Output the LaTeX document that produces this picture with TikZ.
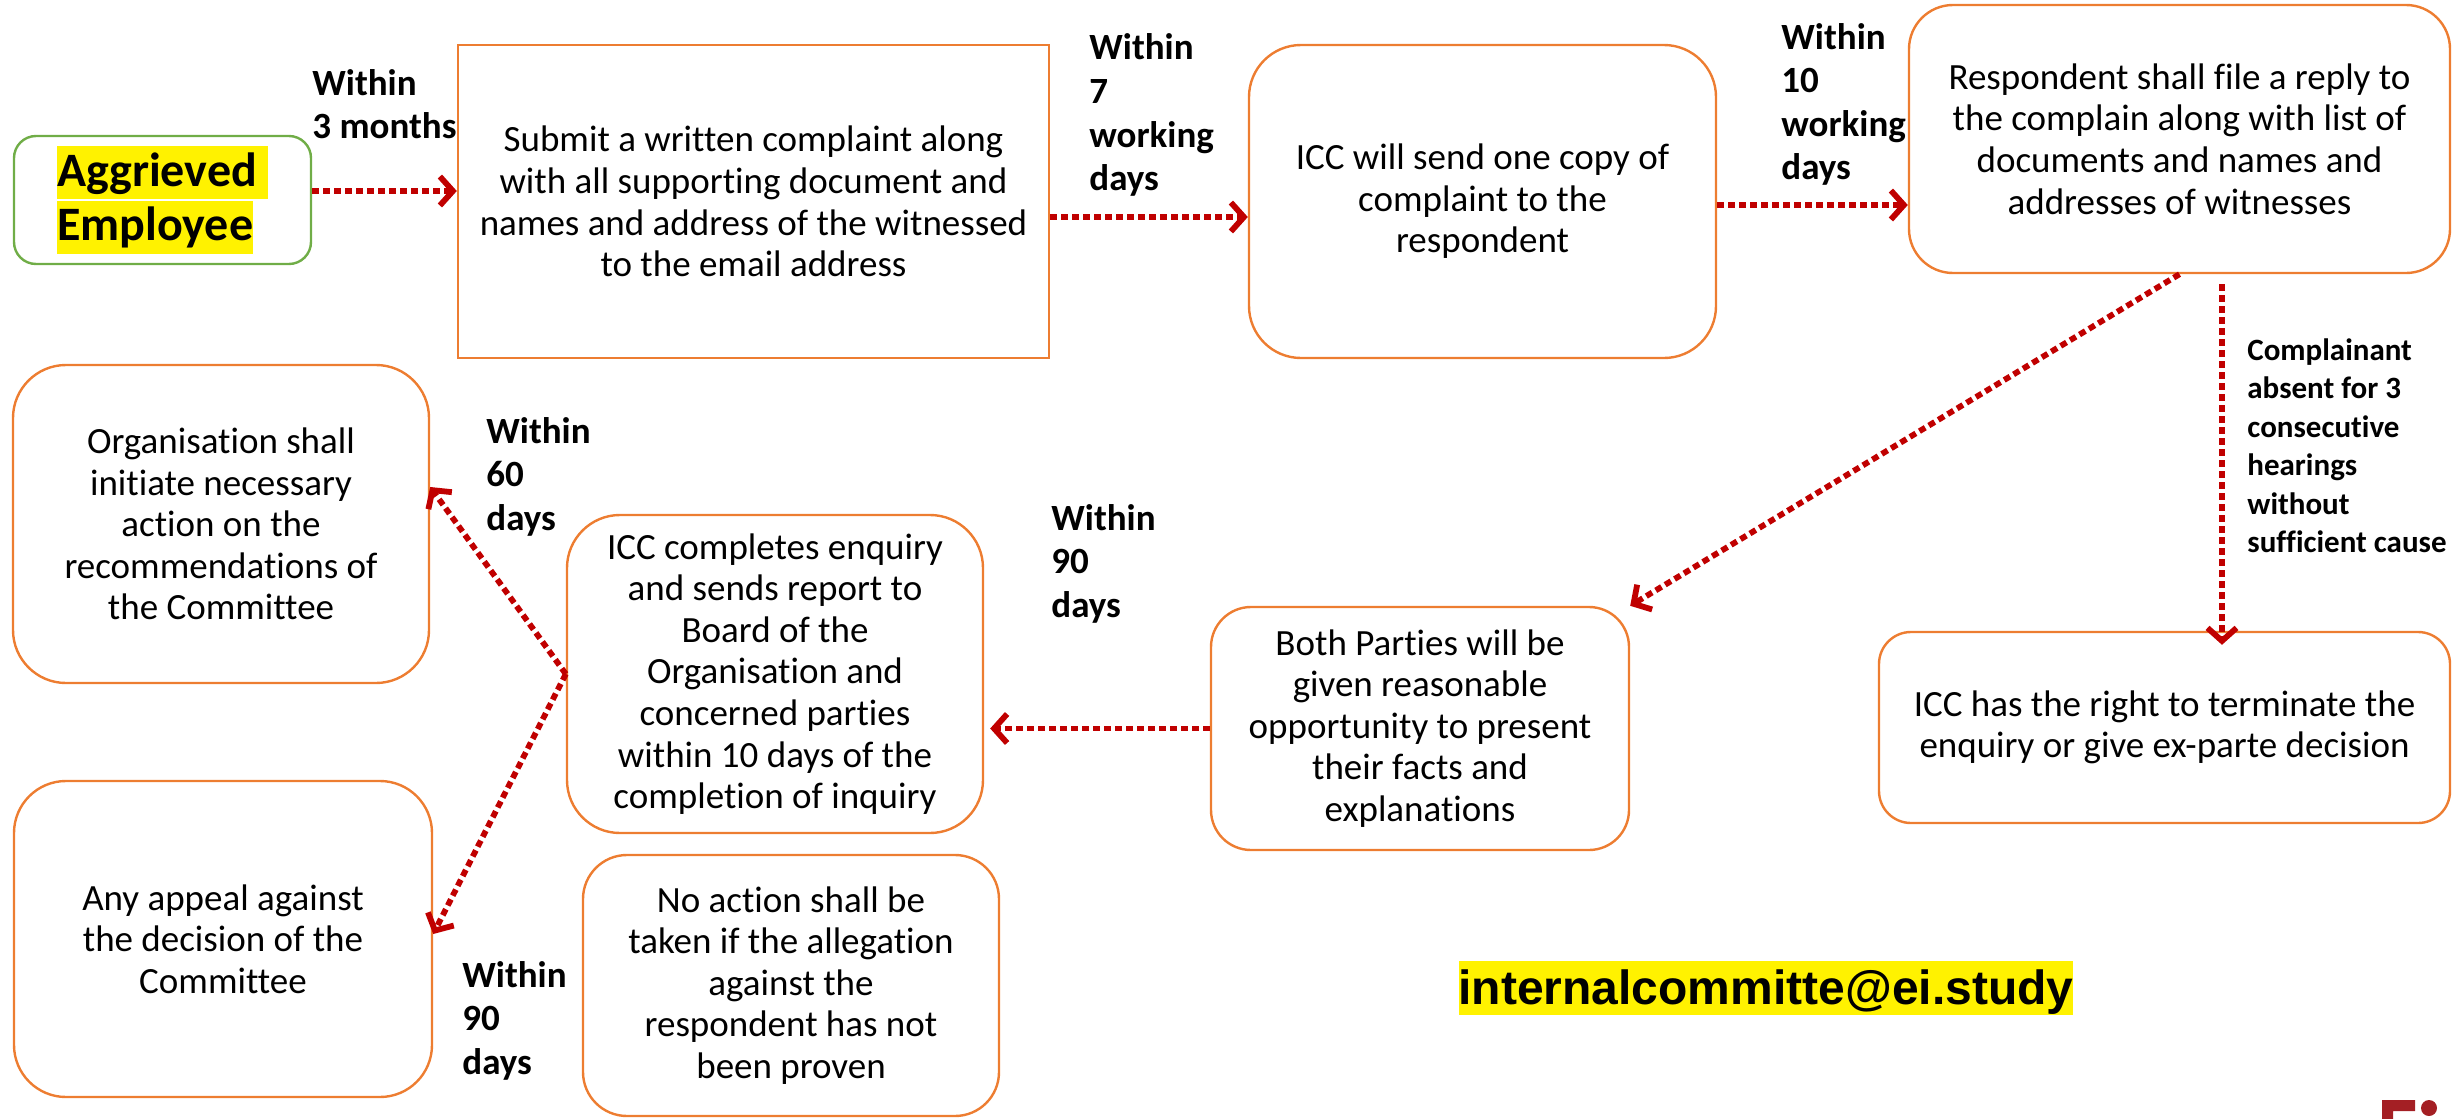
\documentclass[tikz,border=0pt]{standalone}
\usepackage{fontspec}
\setmainfont{Carlito}[Ligatures={CommonOff,ContextualOff}]
\newfontfamily\mailfont{Liberation Sans}
\usetikzlibrary{arrows.meta}

\definecolor{boxorange}{HTML}{ED7D31}
\definecolor{boxgreen}{HTML}{70AD47}
\definecolor{flowred}{HTML}{C00000}
\definecolor{logored}{HTML}{A41F24}

% yellow highlight behind a line of text
\newcommand\hlline[1]{{\setlength{\fboxsep}{0pt}\colorbox{yellow}{\rule[-0.27em]{0pt}{1.1em}#1}}}
\newcommand\hlmail[1]{{\setlength{\fboxsep}{0pt}\colorbox{yellow}{\rule[-0.23em]{0pt}{1.14em}#1}}}
% left-aligned stack whose baseline is the first line
\newcommand\lstack[1]{\begin{tabular}[t]{@{}l@{}}#1\end{tabular}}

\tikzset{
  box/.style={draw=boxorange, line width=1.2pt, align=center, inner sep=0pt,
    font=\fontsize{18.5}{20.8}\selectfont},
  flow/.style={draw=flowred, line width=2.9pt, dash pattern=on 3.4pt off 2.1pt,
    -{Straight Barb[length=6.5pt,width=14.5pt]}},
  lbl/.style={anchor=base west, inner sep=0pt, font=\fontsize{18.5}{21.8}\selectfont\bfseries},
}

\begin{document}
\begin{tikzpicture}[x=0.5pt,y=-0.5pt]
\useasboundingbox (0,0) rectangle (2459,1119);

% ---- boxes ----
\node[draw=boxgreen, line width=1.2pt, rounded corners=11pt, inner sep=0pt,
      minimum width=148.5pt, minimum height=64pt, align=left,
      font=\fontsize{24}{26.4}\selectfont\bfseries] (agg) at (162.5,200)
  {\hlline{Aggrieved\ }\\\hlline{Employee}};

\node[box, minimum width=295.5pt, minimum height=156.5pt] (submit) at (753.5,201.5)
  {Submit a written complaint along\\with all supporting document and\\names and address of the witnessed\\to the email address};

\node[box, rounded corners=26pt, minimum width=233.5pt, minimum height=156.5pt] (send) at (1482.5,201.5)
  {ICC will send one copy of\\complaint to the\\respondent};

\node[box, rounded corners=22pt, minimum width=270.5pt, minimum height=134pt] (resp) at (2179.5,139)
  {Respondent shall file a reply to\\the complain along with list of\\documents and names and\\addresses of witnesses};

\node[box, rounded corners=26.5pt, minimum width=208pt, minimum height=159pt] (org) at (221,524)
  {Organisation shall\\initiate necessary\\action on the\\recommendations of\\the Committee};

\node[box, rounded corners=26.5pt, minimum width=208pt, minimum height=159pt] (comp) at (775,674)
  {ICC completes enquiry\\and sends report to\\Board of the\\Organisation and\\concerned parties\\within 10 days of the\\completion of inquiry};

\node[box, rounded corners=20pt, minimum width=209pt, minimum height=121.5pt] (both) at (1420,728.5)
  {Both Parties will be\\given reasonable\\opportunity to present\\their facts and\\explanations};

\node[box, rounded corners=16pt, minimum width=285.5pt, minimum height=95.5pt] (right) at (2164.5,727.5)
  {ICC has the right to terminate the\\enquiry or give ex-parte decision};

\node[box, rounded corners=26pt, minimum width=209pt, minimum height=158pt] (appeal) at (223,939)
  {Any appeal against\\the decision of the\\Committee};

\node[box, rounded corners=22pt, minimum width=208pt, minimum height=130.5pt] (noact) at (791,985.5)
  {No action shall be\\taken if the allegation\\against the\\respondent has not\\been proven};

% ---- time limits ----
\node[lbl] (t3m) at (312,95) {\lstack{Within\\3 months}};
\node[lbl] (t7d) at (1089,60) {\lstack{Within\\7\\working\\days}};
\node[lbl] (t10d) at (1781,49) {\lstack{Within\\10\\working\\days}};
\node[lbl] (t60d) at (486,443) {\lstack{Within\\60\\days}};
\node[lbl] (t90a) at (1051,530) {\lstack{Within\\90\\days}};
\node[lbl] (t90b) at (462,987) {\lstack{Within\\90\\days}};
\node[lbl, font=\fontsize{15.5}{19.25}\selectfont\bfseries] (absent) at (2247,360)
  {\lstack{Complainant\\absent for 3\\consecutive\\hearings\\without\\sufficient cause}};

% ---- contact ----
\node[inner sep=0pt, font=\mailfont\bfseries\fontsize{24}{28}\selectfont] (mail) at (1766,988)
  {\hlmail{internalcommitte@ei.study}};

% ---- connectors ----
\draw[flow] (agg.east |- 0,191) -- (submit.west |- 0,191);
\draw[flow] (submit.east |- 0,217) -- (send.west |- 0,217);
\draw[flow] (send.east |- 0,205) -- (resp.west |- 0,205);
\draw[flow] (resp.south) -- (both.north east);
\draw[flow, shorten <=5pt, shorten >=-7pt] (resp.south -| 2222,0) -- (right.north -| 2222,0);
\draw[flow, shorten >=3pt] (both.west) -- (comp.east |- both.west);
\draw[flow] (comp.west) -- (org.east |- 0,487);
\draw[flow] (comp.west) -- (appeal.east |- 0,934);

% ---- corner mark ----
\fill[logored] (2382,1100) -- (2415,1100) -- (2415,1111) -- (2393,1111)
  -- (2393,1119) -- (2382,1119) -- cycle;
\fill[logored] (2429,1108) circle[radius=8];
\end{tikzpicture}
\end{document}
